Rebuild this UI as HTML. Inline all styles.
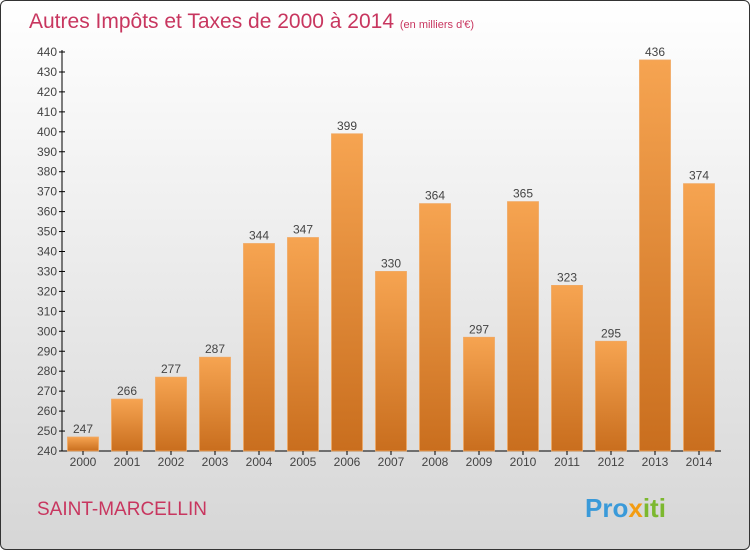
<!DOCTYPE html>
<html><head><meta charset="utf-8"><style>
body{margin:0;width:750px;height:550px;overflow:hidden;font-family:"Liberation Sans",sans-serif}
#c{position:absolute;left:0;top:0;width:748px;height:548px;border:1px solid #333;border-radius:6px;background:linear-gradient(#fff,#d6d6d6);overflow:hidden}
</style></head><body>
<div id="c">
<svg width="750" height="550" id="svg">
<defs><linearGradient id="bg" x1="0" y1="0" x2="0" y2="1"><stop offset="0" stop-color="#f6a451"/><stop offset="1" stop-color="#c96e1e"/></linearGradient></defs>
<text x="28" y="27" font-size="21" fill="#c8365f">Autres Impôts et Taxes de 2000 à 2014 <tspan font-size="11">(en milliers d'€)</tspan></text>
<text x="36" y="514" font-size="19" fill="#c8365f">SAINT-MARCELLIN</text>
<text x="584" y="516" font-size="26" font-weight="bold" fill="#3a9ad9">Pro<tspan fill="#f39c12">x</tspan><tspan fill="#7cb82f">iti</tspan></text>
<g id="g"></g>
</svg></div>
<script>
const years=["2000","2001","2002","2003","2004","2005","2006","2007","2008","2009","2010","2011","2012","2013","2014"];
const values=[247,266,277,287,344,347,399,330,364,297,365,323,295,436,374];
const yTicks=[240,250,260,270,280,290,300,310,320,330,340,350,360,370,380,390,400,410,420,430,440];
const ns="http://www.w3.org/2000/svg",g=document.getElementById('g');
const y=v=>450-(v-240)*1.995, x=i=>82+i*44;
function el(t,a,txt){const e=document.createElementNS(ns,t);for(const k in a)e.setAttribute(k,a[k]);if(txt!=null)e.textContent=txt;g.appendChild(e);return e;}
let ax=el('line',{x1:61,y1:y(440)-2,x2:61,y2:450,stroke:'#000'});

let bx=el('line',{x1:61,y1:450,x2:720,y2:450,stroke:'#000'});

yTicks.forEach(t=>{
 let l=el('line',{x1:58,x2:64,y1:y(t),y2:y(t),stroke:'#000'});
 
 let s=el('text',{x:56,y:y(t)+4,'font-size':12,'text-anchor':'end',fill:'#444'},t);
 
});
years.forEach((yr,i)=>{
 let r=el('rect',{x:x(i)-15.5,y:y(values[i]),width:31,height:450-y(values[i]),fill:'url(#bg)',stroke:'#f0a862','stroke-width':0.8});
 
 let v=el('text',{x:x(i),y:y(values[i])-4,'font-size':12,'text-anchor':'middle',fill:'#444'},values[i]);
 
 let k=el('line',{x1:x(i),x2:x(i),y1:450,y2:454,stroke:'#000'});
 
 let t=el('text',{x:x(i),y:465,'font-size':12,'text-anchor':'middle',fill:'#444'},yr);
 
});
</script>
</body></html>
